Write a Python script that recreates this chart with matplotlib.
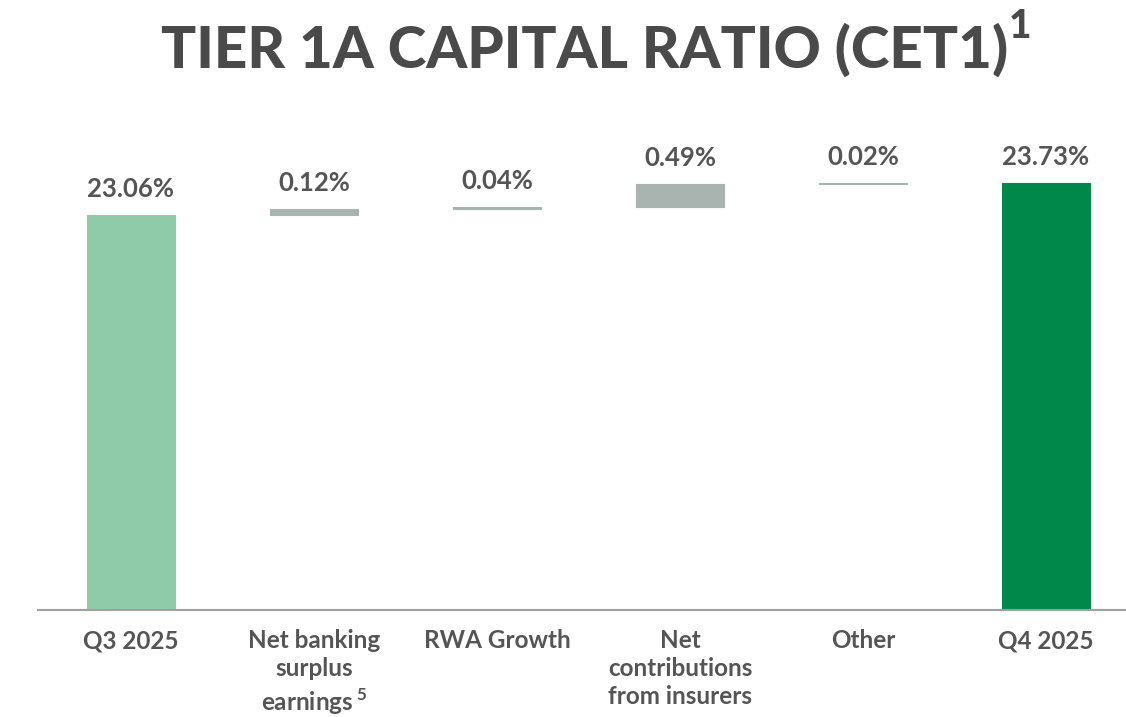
import matplotlib
matplotlib.use('Agg')
from matplotlib import pyplot as plt

# 数据
categories = ['Q3 2025', 'Net banking\nsurplus\nearnings$\\,^{\\mathbf{5}}$', 'RWA Growth',
              'Net\ncontributions\nfrom insurers', 'Other', 'Q4 2025']
start_value = 23.06
changes = [0.12, 0.04, 0.49, 0.02]
end_value = 23.73
labels = ['23.06%', '0.12%', '0.04%', '0.49%', '0.02%', '23.73%']

plt.rcParams['font.family'] = ['Lato', 'DejaVu Sans']
plt.rcParams['mathtext.fontset'] = 'custom'
plt.rcParams['mathtext.rm'] = 'Lato'
plt.rcParams['mathtext.bf'] = 'Lato:bold'

txt_color = '#555555'
c_start = '#8fcba9'
c_mid = '#a9b3b0'
c_end = '#00884a'

fig = plt.figure(figsize=(11.26, 7.17), dpi=100)
ax = fig.add_axes([38 / 1126, 107 / 717, 1 - 38 / 1126, 470 / 717])

ymin = 14.79
# 瀑布图：起点柱
bottoms = [ymin]
heights = [start_value - ymin]
colors = [c_start]
level = start_value
for ch in changes:
    bottoms.append(level)
    heights.append(ch)
    colors.append(c_mid)
    level += ch
bottoms.append(ymin)
heights.append(end_value - ymin)
colors.append(c_end)

x = list(range(len(categories)))
ax.bar(x, heights, bottom=bottoms, width=88 / 183, color=colors,
       edgecolor=colors, linewidth=0.8)

for i in x:
    top = bottoms[i] + heights[i]
    ax.annotate(labels[i], (i, top), xytext=(0, 19), textcoords='offset points',
                ha='center', va='center', fontsize=18.5, fontweight='bold', color=txt_color)

ax.set_xlim(-93 / 183, 995 / 183)
ax.set_ylim(ymin, ymin + 470 / 47.76)
ax.set_xticks(x)
ax.set_xticklabels(categories, fontsize=17.5, fontweight='bold', color=txt_color,
                   linespacing=1.25, va='top')
ax.tick_params(axis='x', length=0, pad=14)
ax.set_yticks([])
for s in ['top', 'right', 'left']:
    ax.spines[s].set_visible(False)
ax.spines['bottom'].set_color('#a0a0a0')
ax.spines['bottom'].set_linewidth(1.5)

fig.text(585 / 1126, 1 - 50 / 717, 'TIER 1A CAPITAL RATIO (CET1)',
         ha='center', va='center', fontsize=42, fontweight='black', color='#4a4a4a')
fig.text(1009 / 1126, 1 - 27 / 717, '1',
         ha='left', va='center', fontsize=28, fontweight='black', color='#4a4a4a')

fig.savefig('out.png', dpi=100)
